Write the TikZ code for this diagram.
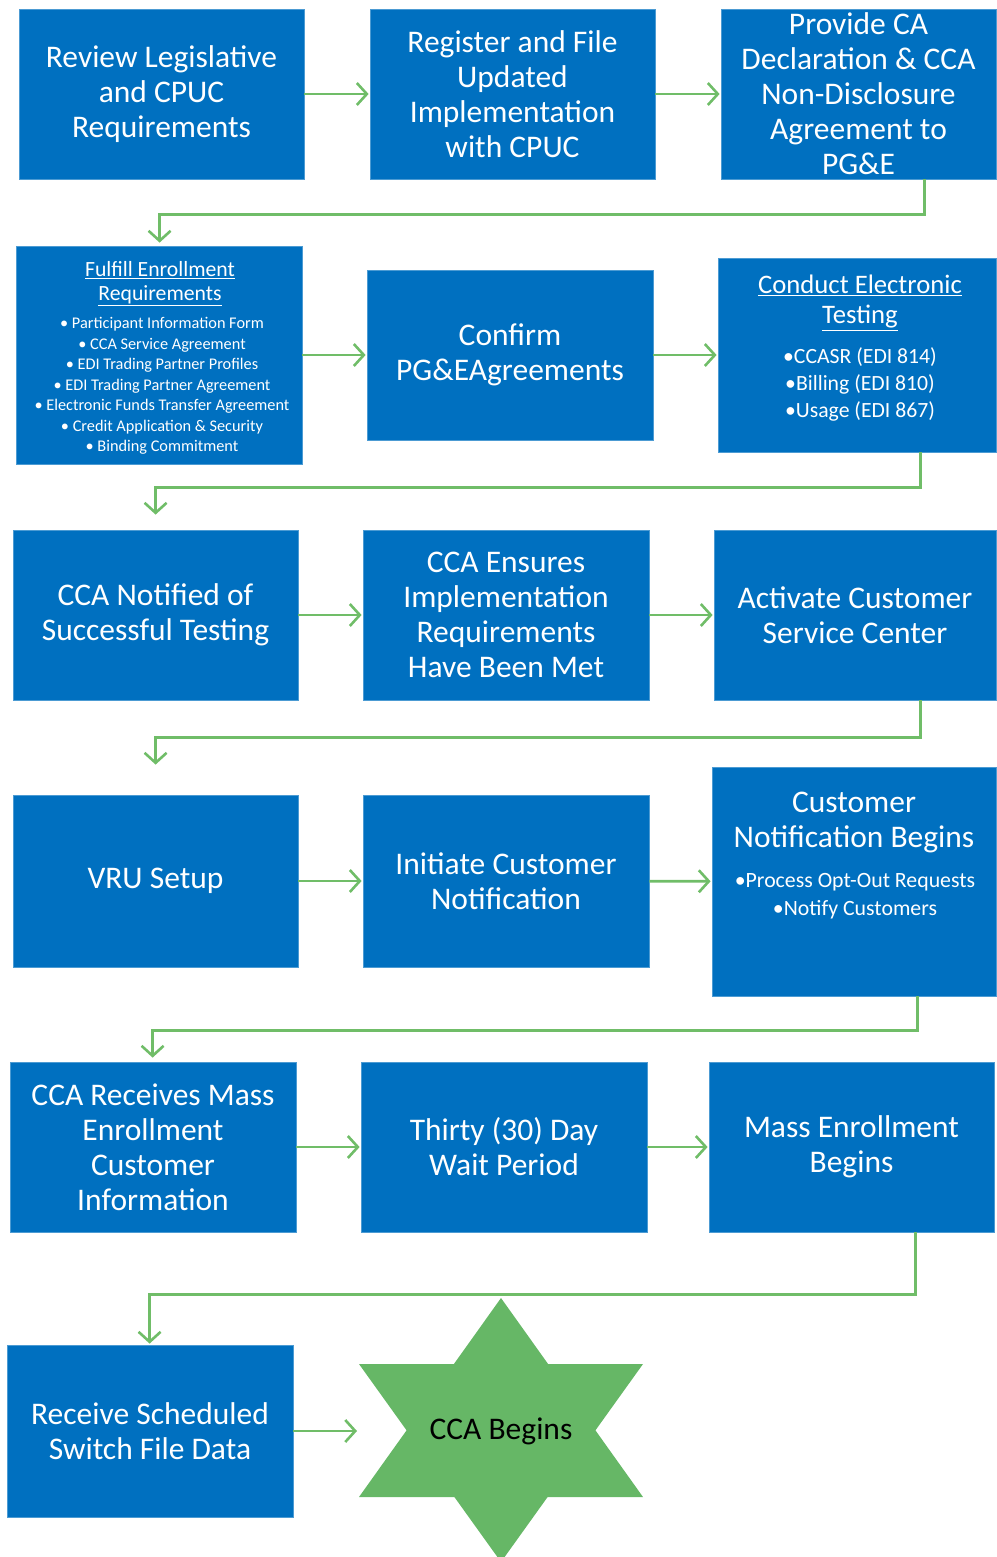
\documentclass[tikz,border=0pt]{standalone}
\usepackage{fontspec}
\setmainfont{Carlito}
\usetikzlibrary{arrows.meta}
\definecolor{boxblue}{HTML}{0070C0}
\definecolor{arrowgreen}{HTML}{70BD68}
\definecolor{stargreen}{HTML}{66B766}
\tikzset{
  box/.style={fill=boxblue, draw=boxblue!70!white, line width=0.8pt, text=white, align=center, inner sep=0pt,
    font=\fontsize{31.5}{35}\selectfont},
  inner/.style={text=white, align=center, inner sep=0pt},
  conn/.style={draw=arrowgreen, line width=2.6pt, -{Straight Barb[length=10pt,width=22pt,line width=2.6pt]}},
}
\begin{document}
\begin{tikzpicture}[x=1pt,y=-1pt]
\useasboundingbox (0,0) rectangle (996,1557);
% row 1
\node[box, minimum width=285pt, minimum height=170pt] (b1) at (161.5,94) {Review Legislative\\and CPUC\\Requirements};
\node[box, minimum width=285pt, minimum height=170pt] (b2) at (512.5,94) {Register and File\\Updated\\Implementation\\with CPUC};
\node[box, minimum width=275pt, minimum height=170pt] (b3) at (858.5,94) {Provide CA\\Declaration \& CCA\\Non-Disclosure\\Agreement to\\PG\&E};
% row 2
\node[box, minimum width=286pt, minimum height=218pt] (b4) at (159,355) {};
\node[inner, font=\fontsize{21.7}{24}\selectfont] (b4t) at (160,284) {\underline{Fulfill Enrollment}\\\underline{Requirements}};
\node[inner, font=\fontsize{16.3}{20.5}\selectfont] (b4b) at (162,386) {\textbullet\ Participant Information Form\\
\textbullet\ CCA Service Agreement\\
\textbullet\ EDI Trading Partner Profiles\\
\textbullet\ EDI Trading Partner Agreement\\
\textbullet\ Electronic Funds Transfer Agreement\\
\textbullet\ Credit Application \& Security\\
\textbullet\ Binding Commitment};
\node[box, minimum width=286pt, minimum height=170pt] (b5) at (510,355) {Confirm\\PG\&EAgreements};
\node[box, minimum width=278pt, minimum height=194pt] (b6) at (857,355) {};
\node[inner, font=\fontsize{26.7}{30}\selectfont] (b6t) at (860,303) {\underline{Conduct Electronic}\\\underline{Testing}};
\node[inner, font=\fontsize{21.7}{27}\selectfont] (b6b) at (860,384) {\textbullet CCASR (EDI 814)\\\textbullet Billing (EDI 810)\\\textbullet Usage (EDI 867)};
% row 3
\node[box, minimum width=285pt, minimum height=170pt] (b7) at (155.5,615) {CCA Notified of\\Successful Testing};
\node[box, minimum width=286pt, minimum height=170pt] (b8) at (506,615) {CCA Ensures\\Implementation\\Requirements\\Have Been Met};
\node[box, minimum width=282pt, minimum height=170pt] (b9) at (855,615) {Activate Customer\\Service Center};
% row 4
\node[box, minimum width=285pt, minimum height=172pt] (b10) at (155.5,881) {VRU Setup};
\node[box, minimum width=286pt, minimum height=172pt] (b11) at (506,881) {Initiate Customer\\Notification};
\node[box, minimum width=284pt, minimum height=229pt] (b12) at (854,881.5) {};
\node[inner, font=\fontsize{31.5}{35}\selectfont] (b12t) at (854,822) {Customer\\Notification Begins};
\node[inner, font=\fontsize{21.8}{28}\selectfont] (b12b) at (855,896) {\textbullet Process Opt-Out Requests\\\textbullet Notify Customers};
% row 5
\node[box, minimum width=286pt, minimum height=170pt] (b13) at (153,1147) {CCA Receives Mass\\Enrollment\\Customer\\Information};
\node[box, minimum width=286pt, minimum height=170pt] (b14) at (504,1147) {Thirty (30) Day\\Wait Period};
\node[box, minimum width=285pt, minimum height=170pt] (b15) at (851.5,1147) {Mass Enrollment\\Begins};
% row 6
\node[box, minimum width=286pt, minimum height=172pt] (b16) at (150,1431) {Receive Scheduled\\Switch File Data};
\fill[stargreen] (501,1298) -- (643,1497) -- (359,1497) -- cycle;
\fill[stargreen] (359,1364) -- (643,1364) -- (501,1562) -- cycle;
\node[font=\fontsize{31.5}{35}\selectfont, text=black] (star) at (501,1431) {CCA Begins};
\coordinate (starL) at (357,1431);
% horizontal arrows
\draw[conn, shorten >=1pt] (b1) -- (b2);
\draw[conn, shorten >=1pt] (b2) -- (b3);
\draw[conn, shorten >=1pt] (b4) -- (b5);
\draw[conn, shorten >=1pt] (b5) -- (b6);
\draw[conn, shorten >=1pt] (b7) -- (b8);
\draw[conn, shorten >=1pt] (b8) -- (b9);
\draw[conn, shorten >=1pt] (b10) -- (b11);
\draw[conn, shorten >=1pt] (b11) -- (b12);
\draw[conn, shorten >=1pt] (b13) -- (b14);
\draw[conn, shorten >=1pt] (b14) -- (b15);
\draw[conn] (b16.east) -- (starL);
% row-to-row connectors
\draw[conn, shorten >=3pt] ([xshift=-72pt]b3.south east) -- ++(0,35) -| ([xshift=144pt]b4.north west);
\draw[conn, shorten >=15pt] ([xshift=-76pt]b6.south east) -- ++(0,35) -| ([xshift=143pt]b7.north west);
\draw[conn, shorten >=30pt] ([xshift=-76pt]b9.south east) -- ++(0,37) -| ([xshift=143pt]b10.north west);
\draw[conn, shorten >=4pt] ([xshift=-79pt]b12.south east) -- ++(0,34) -| ([xshift=143pt]b13.north west);
\draw[conn, shorten >=1pt] ([xshift=-79pt]b15.south east) -- ++(0,62) -| ([xshift=143pt]b16.north west);
\end{tikzpicture}
\end{document}
